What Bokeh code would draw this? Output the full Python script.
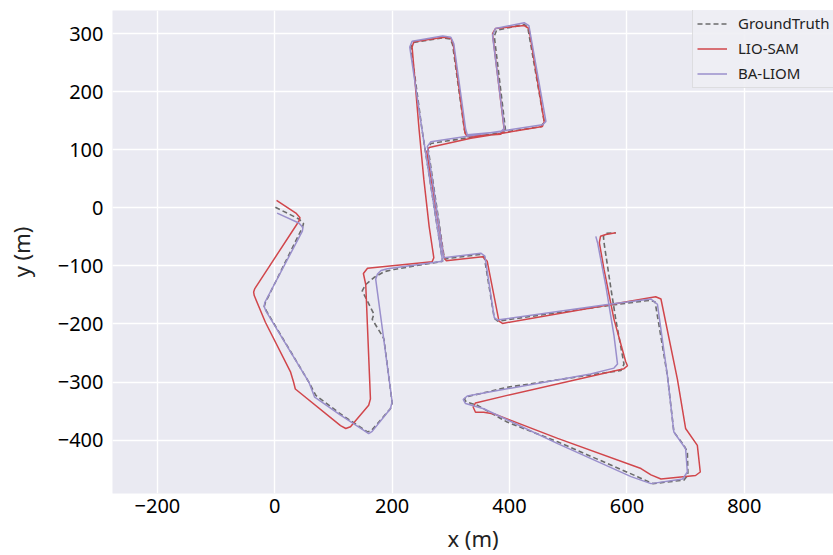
from bokeh.plotting import figure
from bokeh.models import Range1d, FixedTicker
from bokeh.embed import file_html
from bokeh.resources import INLINE

# ---------------- data (metres) ----------------
gt_x = [1, 41, 49, 47, -16, -18, -14, 58, 70, 112, 152, 158, 165, 197, 200, 186, 183, 166, 169,
        149, 155, 169, 186, 203, 286, 251, 232, 236, 286, 299, 303, 323, 327, 386, 393, 374, 378,
        425, 431, 459, 454, 266, 261, 289, 351, 357, 374, 380, 570, 640, 648, 669, 680, 697, 703,
        704, 697, 644, 618, 482, 396, 345, 326, 323, 329, 396, 590, 595, 581, 572, 561, 560, 564, 581]
gt_y = [1, -19, -27, -34, -163, -170, -178, -300, -323, -355, -382, -386, -383, -346, -336, -226,
        -220, -192, -183, -143, -132, -120, -110, -106, -92, 134, 277, 285, 293, 291, 281, 135, 123,
        128, 135, 296, 306, 316, 311, 149, 140, 111, 104, -88, -80, -85, -190, -195, -168, -159,
        -162, -289, -386, -409, -420, -460, -469, -475, -463, -403, -369, -340, -334, -329, -325,
        -309, -280, -269, -192, -134, -60, -49, -44, -43]

lio_x = [3, 36, 43, 41, -34, -36, -35, -16, 27, 32, 35, 112, 121, 129, 160, 163, 155, 151, 158,
         268, 271, 263, 254, 246, 234, 237, 288, 300, 304, 324, 328, 385, 391, 371, 376, 425, 433,
         459, 456, 402, 334, 263, 259, 288, 292, 354, 362, 382, 388, 575, 649, 658, 686, 700, 720,
         725, 717, 658, 641, 624, 482, 374, 356, 342, 338, 342, 396, 595, 601, 598, 578, 561, 553,
         555, 564, 581]
lio_y = [13, -9, -17, -23, -139, -145, -151, -197, -283, -300, -312, -375, -380, -377, -340, -329,
         -132, -113, -104, -93, -86, -32, 49, 134, 277, 286, 294, 292, 283, 129, 123, 127, 134, 300,
         309, 314, 309, 149, 140, 131, 120, 104, 97, -84, -91, -84, -92, -195, -199, -166, -153,
         -157, -295, -380, -409, -455, -461, -467, -460, -449, -397, -355, -352, -352, -343, -336,
         -323, -277, -272, -265, -192, -106, -60, -49, -46, -43]

ba_x = [4, 41, 48, 47, -17, -18, -15, 58, 68, 112, 153, 160, 166, 197, 200, 172, 175, 181, 192,
        286, 251, 230, 234, 286, 300, 305, 325, 328, 385, 391, 371, 376, 425, 433, 462, 456, 266,
        260, 288, 351, 358, 374, 379, 570, 641, 652, 669, 680, 700, 703, 695, 641, 607, 482, 356,
        325, 321, 328, 538, 578, 584, 578, 564, 550, 547]
ba_y = [-9, -26, -34, -40, -163, -170, -178, -300, -326, -357, -384, -389, -385, -346, -334, -123,
        -114, -108, -105, -92, 134, 277, 287, 296, 294, 283, 137, 126, 131, 137, 297, 309, 319, 314,
        149, 143, 114, 106, -86, -78, -83, -189, -193, -166, -157, -166, -289, -386, -415, -455,
        -467, -475, -463, -406, -346, -337, -330, -324, -286, -276, -269, -220, -134, -60, -49]

x_ticks = [-200, 0, 200, 400, 600, 800]
y_ticks = [-400, -300, -200, -100, 0, 100, 200, 300]

# ---------------- layout ----------------
W, H = 833, 555
L, R, T, B = 112, 0, 10, 60
X0, X1 = -276.5, 952.0
Y0, Y1 = -492.0, 340.0

FONT = "Noto Sans"

p = figure(width=W, height=H, x_range=Range1d(X0, X1), y_range=Range1d(Y0, Y1),
           output_backend="svg", toolbar_location=None,
           min_border_left=L, min_border_right=R, min_border_top=T, min_border_bottom=B)
p.background_fill_color = "#EAEAF2"
p.border_fill_color = "white"
p.outline_line_color = None

for ax in (p.xaxis[0], p.yaxis[0]):
    ax.axis_line_color = None
    ax.major_tick_line_color = None
    ax.minor_tick_line_color = None
    ax.major_tick_out = 0
    ax.major_tick_in = 0
    ax.major_label_text_font = FONT
    ax.major_label_text_font_size = "20px"
    ax.major_label_text_color = "black"
    ax.axis_label_text_font = FONT
    ax.axis_label_text_font_size = "22px"
    ax.axis_label_text_font_style = "normal"
    ax.axis_label_text_color = "#222222"

p.xaxis.ticker = FixedTicker(ticks=x_ticks)
p.yaxis.ticker = FixedTicker(ticks=y_ticks)
p.xaxis.major_label_standoff = 5
p.yaxis.major_label_standoff = 9
p.xaxis.axis_label = "x (m)"
p.yaxis.axis_label = "y (m)"
p.xaxis.axis_label_standoff = 7
p.yaxis.axis_label_standoff = 19

p.grid.grid_line_color = "white"
p.grid.grid_line_width = 1.4
p.xgrid.ticker = FixedTicker(ticks=x_ticks)
p.ygrid.ticker = FixedTicker(ticks=y_ticks)

p.line(gt_x, gt_y, line_color="#6b6b6b", line_width=1.6, line_dash="5 3",
       legend_label="GroundTruth")
p.line(lio_x, lio_y, line_color="#d1464b", line_width=1.5, legend_label="LIO-SAM")
p.line(ba_x, ba_y, line_color="#9a8fcc", line_width=1.5, legend_label="BA-LIOM")

lg = p.legend[0]
lg.location = (692 - L, 495 - 90)
lg.label_text_font = FONT
lg.label_text_font_size = "15px"
lg.label_text_color = "#222222"
lg.glyph_width = 30
lg.glyph_height = 19
lg.label_height = 19
lg.label_standoff = 11
lg.spacing = 5
lg.padding = 4
lg.margin = 0
lg.background_fill_color = "#EEEEF4"
lg.background_fill_alpha = 0.9
lg.border_line_color = "#cccccc"
lg.border_line_width = 1

open("out.html", "w").write(file_html(p, INLINE))
